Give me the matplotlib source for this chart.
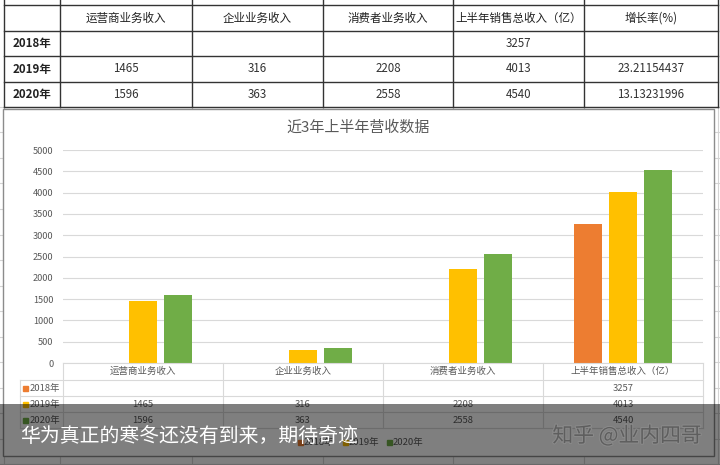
import matplotlib
import numpy as np

matplotlib.use("Agg")
import matplotlib.pyplot as plt
import matplotlib.patheffects as pe
from matplotlib.patches import Rectangle

plt.rcParams["font.family"] = ["Noto Sans CJK SC", "DejaVu Sans"]

# data
categories = ["运营商业务收入", "企业业务收入", "消费者业务收入", "上半年销售总收入（亿）"]
years = ["2018年", "2019年", "2020年"]
rev_2018 = [np.nan, np.nan, np.nan, 3257]
rev_2019 = [1465, 316, 2208, 4013]
rev_2020 = [1596, 363, 2558, 4540]
growth = ["", "23.21154437", "13.13231996"]
growth_header = "增长率(%)"
colors = ["#ED7D31", "#FFC000", "#70AD47"]
title = "近3年上半年营收数据"
caption = "华为真正的寒冬还没有到来，期待奇迹"
watermark = "知乎 @业内四哥"

series = [rev_2018, rev_2019, rev_2020]


def fmt(v):
    return "" if np.isnan(v) else f"{int(v)}"


W, H = 720, 465
fig = plt.figure(figsize=(7.2, 4.65), dpi=100)


def px_axes(z):
    a = fig.add_axes([0, 0, 1, 1], zorder=z)
    a.set_xlim(0, W)
    a.set_ylim(H, 0)
    a.axis("off")
    return a


bg = px_axes(0)

# spreadsheet grid behind everything
col_x = [4, 60, 192, 323, 453, 584, 718]
row_y = [5, 31, 56, 82, 107]
for y in np.arange(107, H, 25.5):
    bg.plot([0, W], [y, y], color="#D4D4D4", lw=0.8, zorder=1)
for x in col_x:
    bg.plot([x, x], [107, H], color="#D4D4D4", lw=0.8, zorder=1)

# top table
for x in col_x:
    bg.plot([x, x], [0, 107], color="#333333", lw=1.0, zorder=2)
for y in row_y:
    bg.plot([col_x[0], col_x[-1]], [y, y], color="#333333", lw=1.0, zorder=2)
headers = categories + [growth_header]
for j, h in enumerate(headers):
    cx = (col_x[j + 1] + col_x[j + 2]) / 2
    bg.text(cx, (row_y[0] + row_y[1]) / 2, h, ha="center", va="center",
            fontsize=8.3, color="#222222")
for i, yr in enumerate(years):
    cy = (row_y[i + 1] + row_y[i + 2]) / 2
    bg.text(13, cy, yr, ha="left", va="center", fontsize=8.3,
            fontweight="bold", color="#222222")
    cells = [fmt(v) for v in series[i]] + [growth[i]]
    for j, c in enumerate(cells):
        cx = (col_x[j + 1] + col_x[j + 2]) / 2
        bg.text(cx, cy, c, ha="center", va="center", fontsize=8.3,
                color="#333333")

# chart box
bg.add_patch(Rectangle((3, 109), 711, 347, facecolor="white",
                       edgecolor="#8C8C8C", lw=1.0, zorder=3))
bg.text(358, 128, title, ha="center", va="center", fontsize=10.8,
        color="#595959", zorder=4)

# main bar chart
left, right, top, bottom = 63, 703, 150, 363
ax = fig.add_axes([left / W, 1 - bottom / H, (right - left) / W,
                   (bottom - top) / H], zorder=1)
ax.patch.set_alpha(0)
x = np.arange(len(categories))
offsets = [-0.219, 0.0, 0.219]
for k, vals in enumerate(series):
    ax.bar(x + offsets[k], vals, width=0.175, color=colors[k], zorder=2)
ax.set_xlim(-0.5, len(categories) - 0.5)
ax.set_ylim(0, 5000)
ax.set_yticks(np.arange(0, 5001, 500))
ax.yaxis.grid(True, color="#D9D9D9", lw=0.8, zorder=0)
ax.set_axisbelow(True)
ax.set_xticks([])
ax.tick_params(axis="y", length=0, pad=7, labelsize=6.6, labelcolor="#595959")
for s in ["top", "right", "left"]:
    ax.spines[s].set_visible(False)
ax.spines["bottom"].set_color("#D9D9D9")

# data table under the chart
cw = (right - left) / len(categories)
tbl_y = [363, 380, 396, 412, 428]
for k in range(len(categories) + 1):
    bg.plot([left + k * cw] * 2, [tbl_y[0], tbl_y[-1]], color="#D9D9D9",
            lw=0.8, zorder=4)
bg.plot([20, 20], [tbl_y[1], tbl_y[-1]], color="#D9D9D9", lw=0.8, zorder=4)
for y in tbl_y[1:]:
    bg.plot([20, right], [y, y], color="#D9D9D9", lw=0.8, zorder=4)
for j, c in enumerate(categories):
    bg.text(left + (j + 0.5) * cw, (tbl_y[0] + tbl_y[1]) / 2, c,
            ha="center", va="center", fontsize=6.8, color="#595959", zorder=5)
for i, yr in enumerate(years):
    cy = (tbl_y[i + 1] + tbl_y[i + 2]) / 2
    bg.add_patch(Rectangle((23, cy - 2.5), 5, 5, color=colors[i], zorder=5))
    bg.text(30, cy, yr, ha="left", va="center", fontsize=6.8,
            color="#595959", zorder=5)
    for j, v in enumerate(series[i]):
        bg.text(left + (j + 0.5) * cw, cy, fmt(v), ha="center", va="center",
                fontsize=6.8, color="#595959", zorder=5)

# legend at the bottom
for i, (yr, lx) in enumerate(zip(years, [298, 343, 387])):
    bg.add_patch(Rectangle((lx, 440), 5, 5, color=colors[i], zorder=5))
    bg.text(lx + 6, 442.5, yr, ha="left", va="center", fontsize=6.8,
            color="#595959", zorder=5)

# dark caption banner on top
ov = px_axes(3)
ov.add_patch(Rectangle((0, 404), W, H - 404, facecolor="black", alpha=0.5,
                       lw=0))
ov.text(20, 436, caption, ha="left", va="center", fontsize=14.3,
        color="white")
ov.text(702, 436, watermark, ha="right", va="center", fontsize=15,
        color="#5E5E5E",
        path_effects=[pe.withStroke(linewidth=1.5, foreground="#8A8A8A")])

fig.savefig("out.png", dpi=100)
